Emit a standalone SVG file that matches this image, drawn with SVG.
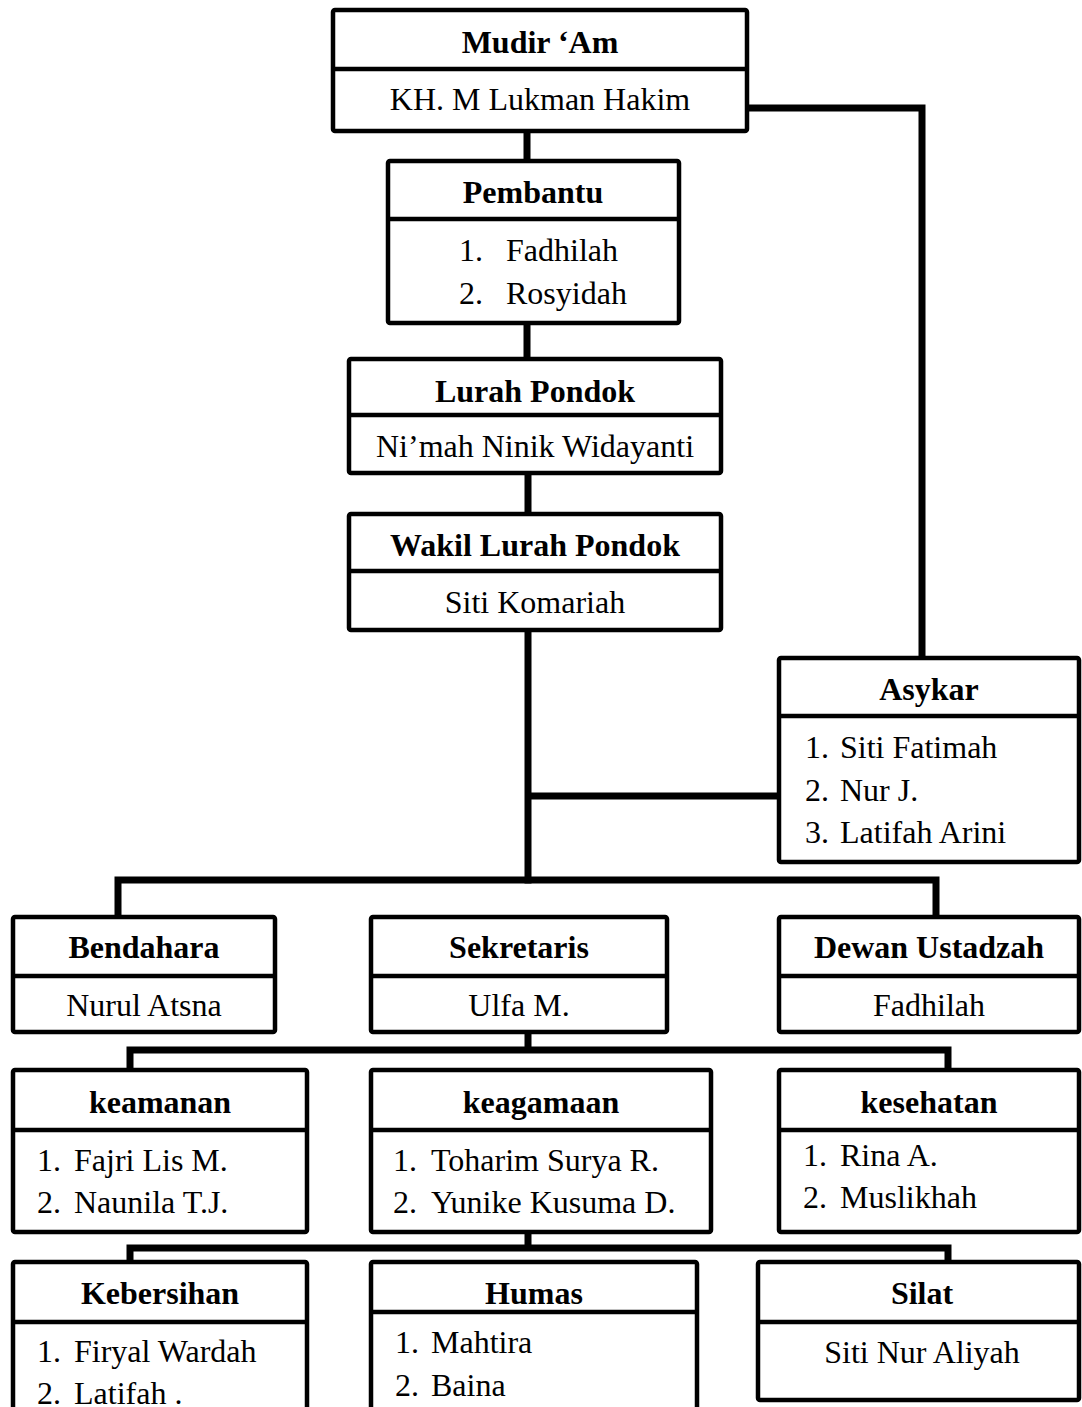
<svg xmlns="http://www.w3.org/2000/svg" width="1082" height="1407" viewBox="0 0 1082 1407">
<style>
.box{fill:#fff;stroke:#000;stroke-width:4.5}
.div{stroke:#000;stroke-width:4.5}
.con{fill:none;stroke:#000;stroke-width:7;stroke-linejoin:miter;stroke-linecap:square}
text{font-family:"Liberation Serif","Times New Roman",serif;font-size:32px;fill:#000}
.t{font-weight:bold;text-anchor:middle}
.c{text-anchor:middle}
</style>
<rect width="1082" height="1407" fill="#fff"/>
<g id="connectors">
<path class="con" d="M527 131V161M527 323V359M528 473V514M528 630V880M528 796H779M747 108H922V657"/>
<path class="con" d="M118 917V880H936V917"/>
<path class="con" d="M528 1032V1050M130 1070V1050H948V1070"/>
<path class="con" d="M528 1232V1248M130 1262V1248H948V1262"/>
</g>
<g id="mudir">
<rect class="box" x="333" y="10" width="414" height="121" rx="2"/>
<line class="div" x1="333" y1="69" x2="747" y2="69"/>
<text class="t" x="540" y="53">Mudir ‘Am</text>
<text class="c" x="540" y="110">KH. M Lukman Hakim</text>
</g>
<g id="pembantu">
<rect class="box" x="388" y="161" width="291" height="162" rx="2"/>
<line class="div" x1="388" y1="219" x2="679" y2="219"/>
<text class="t" x="533" y="203">Pembantu</text>
<text x="459" y="261">1.</text><text x="506" y="261">Fadhilah</text>
<text x="459" y="304">2.</text><text x="506" y="304">Rosyidah</text>
</g>
<g id="lurah">
<rect class="box" x="349" y="359" width="372" height="114" rx="2"/>
<line class="div" x1="349" y1="415" x2="721" y2="415"/>
<text class="t" x="535" y="402">Lurah Pondok</text>
<text class="c" x="535" y="457">Ni’mah Ninik Widayanti</text>
</g>
<g id="wakil">
<rect class="box" x="349" y="514" width="372" height="116" rx="2"/>
<line class="div" x1="349" y1="571" x2="721" y2="571"/>
<text class="t" x="535" y="556">Wakil Lurah Pondok</text>
<text class="c" x="535" y="613">Siti Komariah</text>
</g>
<g id="asykar">
<rect class="box" x="779" y="658" width="300" height="204" rx="2"/>
<line class="div" x1="779" y1="716" x2="1079" y2="716"/>
<text class="t" x="929" y="700">Asykar</text>
<text x="805" y="758">1.</text><text x="840" y="758">Siti Fatimah</text>
<text x="805" y="801">2.</text><text x="840" y="801">Nur J.</text>
<text x="805" y="843">3.</text><text x="840" y="843">Latifah Arini</text>
</g>
<g id="bendahara">
<rect class="box" x="13" y="917" width="262" height="115" rx="2"/>
<line class="div" x1="13" y1="976" x2="275" y2="976"/>
<text class="t" x="144" y="958">Bendahara</text>
<text class="c" x="144" y="1016">Nurul Atsna</text>
</g>
<g id="sekretaris">
<rect class="box" x="371" y="917" width="296" height="115" rx="2"/>
<line class="div" x1="371" y1="976" x2="667" y2="976"/>
<text class="t" x="519" y="958">Sekretaris</text>
<text class="c" x="519" y="1016">Ulfa M.</text>
</g>
<g id="dewan">
<rect class="box" x="779" y="917" width="300" height="115" rx="2"/>
<line class="div" x1="779" y1="976" x2="1079" y2="976"/>
<text class="t" x="929" y="958">Dewan Ustadzah</text>
<text class="c" x="929" y="1016">Fadhilah</text>
</g>
<g id="keamanan">
<rect class="box" x="13" y="1070" width="294" height="162" rx="2"/>
<line class="div" x1="13" y1="1130" x2="307" y2="1130"/>
<text class="t" x="160" y="1113">keamanan</text>
<text x="37" y="1171">1.</text><text x="74" y="1171">Fajri Lis M.</text>
<text x="37" y="1213">2.</text><text x="74" y="1213">Naunila T.J.</text>
</g>
<g id="keagamaan">
<rect class="box" x="371" y="1070" width="340" height="162" rx="2"/>
<line class="div" x1="371" y1="1130" x2="711" y2="1130"/>
<text class="t" x="541" y="1113">keagamaan</text>
<text x="393" y="1171">1.</text><text x="431" y="1171">Toharim Surya R.</text>
<text x="393" y="1213">2.</text><text x="431" y="1213">Yunike Kusuma D.</text>
</g>
<g id="kesehatan">
<rect class="box" x="779" y="1070" width="300" height="162" rx="2"/>
<line class="div" x1="779" y1="1130" x2="1079" y2="1130"/>
<text class="t" x="929" y="1113">kesehatan</text>
<text x="803" y="1166">1.</text><text x="840" y="1166">Rina A.</text>
<text x="803" y="1208">2.</text><text x="840" y="1208">Muslikhah</text>
</g>
<g id="kebersihan">
<rect class="box" x="13" y="1262" width="294" height="160" rx="2"/>
<line class="div" x1="13" y1="1322" x2="307" y2="1322"/>
<text class="t" x="160" y="1304">Kebersihan</text>
<text x="37" y="1362">1.</text><text x="74" y="1362">Firyal Wardah</text>
<text x="37" y="1404">2.</text><text x="74" y="1404">Latifah .</text>
</g>
<g id="humas">
<rect class="box" x="371" y="1262" width="326" height="160" rx="2"/>
<line class="div" x1="371" y1="1312" x2="697" y2="1312"/>
<text class="t" x="534" y="1304">Humas</text>
<text x="395" y="1353">1.</text><text x="431" y="1353">Mahtira</text>
<text x="395" y="1396">2.</text><text x="431" y="1396">Baina</text>
</g>
<g id="silat">
<rect class="box" x="758" y="1262" width="321" height="138" rx="2"/>
<line class="div" x1="758" y1="1322" x2="1079" y2="1322"/>
<text class="t" x="922" y="1304">Silat</text>
<text class="c" x="922" y="1363">Siti Nur Aliyah</text>
</g>
</svg>
